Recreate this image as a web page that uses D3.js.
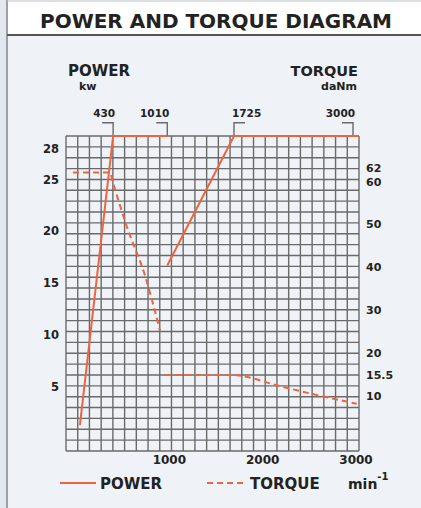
<!DOCTYPE html>
<html><head><meta charset="utf-8">
<script src="https://cdn.jsdelivr.net/npm/d3@7"></script>
<style>
html,body{margin:0;padding:0;background:#e3e8ee;}
svg{display:block;}
text{font-family:"DejaVu Sans",Verdana,sans-serif;font-weight:bold;fill:#222;}
</style></head>
<body>
<svg id="chart" width="421" height="508"></svg>
<script>
// ---- data ----
const title = "POWER AND TORQUE DIAGRAM";
const rpmTicks = [1000, 2000, 3000];
const powerTicks = [5, 10, 15, 20, 25, 28];
const torqueTicks = [10, 15.5, 20, 30, 40, 50, 60, 62];
const markerRpm = [430, 1010, 1725, 3000];
const markerSide = ["left", "left", "right", "left"];
// power (kW) solid segments
const powerRpm1 = [74, 430, 1010];
const powerKw1 = [1.3, 29.2, 29.2];
const powerRpm2 = [1010, 1725, 3064];
const powerKw2 = [16.7, 29.2, 29.2];
// torque (daNm) dashed segments
const torqueRpm1 = [0, 395, 430, 578, 770, 931];
const torqueVal1 = [62, 62, 59.5, 49.3, 38.1, 25.3];
const torqueRpm2 = [985, 1725, 1800, 2182, 2539, 3040];
const torqueVal2 = [14.9, 14.9, 14.7, 12.5, 10.6, 8.2];

const red = "#ef6440";
const gridCol = "#6a6a6a";

const svg = d3.select("#chart");

// frame
svg.append("rect").attr("x", 7).attr("y", 0).attr("width", 414).attr("height", 508).attr("fill", "#eff2f6");
svg.append("rect").attr("x", 7).attr("y", 0).attr("width", 414).attr("height", 35).attr("fill", "#ffffff");
svg.append("line").attr("x1", 7).attr("x2", 7).attr("y1", 0).attr("y2", 508).attr("stroke", "#9aa0a6").attr("stroke-width", 2);
svg.append("line").attr("x1", 7).attr("x2", 421).attr("y1", 1).attr("y2", 1).attr("stroke", "#b8bec4").attr("stroke-width", 1);
svg.append("line").attr("x1", 7).attr("x2", 421).attr("y1", 35).attr("y2", 35).attr("stroke", "#555").attr("stroke-width", 2);

svg.append("text").attr("x", 216).attr("y", 28).attr("text-anchor", "middle")
  .style("font-size", "19.5px").attr("textLength", 352).attr("lengthAdjust", "spacingAndGlyphs").text(title);

// scales
const x = d3.scaleLinear().domain([0, 3000]).range([73, 353]);
const yP = d3.scaleLinear().domain([0, 28]).range([438.5, 148.4]);
const yT = d3.scaleLinear().domain([0, 60]).range([439, 181]);

// grid
const gx0 = 66, gx1 = 359, gy0 = 136, gy1 = 451;
const nCols = 25, nRows = 29;
const grid = svg.append("g").attr("stroke", gridCol).attr("stroke-width", 1.4);
d3.range(nCols + 1).forEach(i => {
  const xx = gx0 + (gx1 - gx0) * i / nCols;
  grid.append("line").attr("x1", xx).attr("x2", xx).attr("y1", gy0).attr("y2", gy1);
});
d3.range(nRows + 1).forEach(i => {
  const yy = gy0 + (gy1 - gy0) * i / nRows;
  grid.append("line").attr("x1", gx0).attr("x2", gx1).attr("y1", yy).attr("y2", yy);
});

// axis titles
svg.append("text").attr("x", 68).attr("y", 76).style("font-size", "15px").text("POWER");
svg.append("text").attr("x", 79).attr("y", 90).style("font-size", "11px").text("kw");
svg.append("text").attr("x", 358).attr("y", 76).attr("text-anchor", "end").style("font-size", "14.5px").text("TORQUE");
svg.append("text").attr("x", 357).attr("y", 90).attr("text-anchor", "end").style("font-size", "11px").text("daNm");

// left ticks
svg.append("g").selectAll("text").data(powerTicks).join("text")
  .attr("x", 59).attr("y", d => yP(d)).attr("dy", "0.36em").attr("text-anchor", "end")
  .style("font-size", "11.5px").text(d => d);
// right ticks (small nudges to keep 62/60 apart)
const tNudge = {62: -4.5, 60: 1, 15.5: 3};
svg.append("g").selectAll("text").data(torqueTicks).join("text")
  .attr("x", 366).attr("y", d => yT(d) + (tNudge[d] || 0)).attr("dy", "0.36em")
  .style("font-size", "11px").text(d => d);
// bottom ticks
svg.append("g").selectAll("text").data(rpmTicks).join("text")
  .attr("x", d => x(d) + 3).attr("y", 464).attr("text-anchor", "middle")
  .style("font-size", "12px").text(d => d);

// markers (brackets)
const mk = svg.append("g");
markerRpm.forEach((r, i) => {
  const xx = x(r), yb = 122.7;
  const dir = markerSide[i] === "left" ? -1 : 1;
  mk.append("path").attr("d", `M${xx + dir * 11},${yb}H${xx}V${gy0}`)
    .attr("fill", "none").attr("stroke", gridCol).attr("stroke-width", 1.4);
  mk.append("text").attr("x", dir < 0 ? xx + 2 : xx - 2).attr("y", 117)
    .attr("text-anchor", dir < 0 ? "end" : "start").style("font-size", "10.5px").text(r);
});

// lines
const lineP = d3.line().x(d => x(d[0])).y(d => yP(d[1]));
const lineT = d3.line().x(d => x(d[0])).y(d => yT(d[1])).curve(d3.curveMonotoneX);
[[powerRpm1, powerKw1], [powerRpm2, powerKw2]].forEach(([r, v]) => {
  svg.append("path").datum(d3.zip(r, v)).attr("d", lineP)
    .attr("fill", "none").attr("stroke", red).attr("stroke-width", 2);
});
[[torqueRpm1, torqueVal1], [torqueRpm2, torqueVal2]].forEach(([r, v]) => {
  svg.append("path").datum(d3.zip(r, v)).attr("d", lineT)
    .attr("fill", "none").attr("stroke", red).attr("stroke-width", 2).attr("stroke-dasharray", "6,4");
});

// legend
svg.append("line").attr("x1", 60).attr("x2", 96).attr("y1", 483).attr("y2", 483).attr("stroke", red).attr("stroke-width", 2);
svg.append("text").attr("x", 100).attr("y", 489).style("font-size", "15px").text("POWER");
svg.append("line").attr("x1", 207).attr("x2", 244).attr("y1", 483).attr("y2", 483).attr("stroke", red).attr("stroke-width", 2).attr("stroke-dasharray", "6,4");
svg.append("text").attr("x", 250).attr("y", 489).style("font-size", "15px").text("TORQUE");
const mt = svg.append("text").attr("x", 348).attr("y", 489).style("font-size", "14px");
mt.append("tspan").text("min");
mt.append("tspan").attr("dy", -9).style("font-size", "10px").text("-1");
</script>
</body></html>
